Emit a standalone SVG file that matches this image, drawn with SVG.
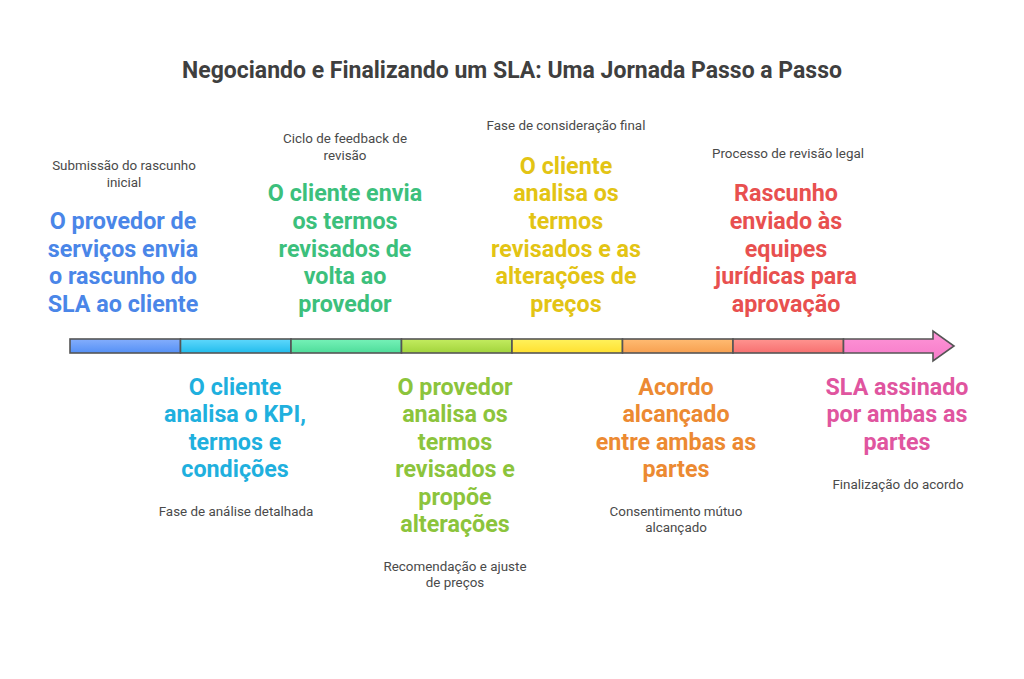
<svg xmlns="http://www.w3.org/2000/svg" width="1024" height="679" viewBox="0 0 1024 679">
<style>
text{font-family:Roboto,"Liberation Sans",Arial,sans-serif;text-anchor:middle}
.t{font-size:23px;font-weight:bold;fill:#3f3f3f}
.s{font-size:13.4px;fill:#4a4a4a}
.m{font-size:23.3px;font-weight:bold}
.seg{stroke:#555;stroke-width:1.6}
</style>
<defs>
<linearGradient id="g1" x1="0" y1="0" x2="0" y2="1"><stop offset="0" stop-color="#84aefc"/><stop offset="1" stop-color="#5590f5"/></linearGradient>
<linearGradient id="g2" x1="0" y1="0" x2="0" y2="1"><stop offset="0" stop-color="#5fd8fc"/><stop offset="1" stop-color="#22bcec"/></linearGradient>
<linearGradient id="g3" x1="0" y1="0" x2="0" y2="1"><stop offset="0" stop-color="#76f2b8"/><stop offset="1" stop-color="#4edc9a"/></linearGradient>
<linearGradient id="g4" x1="0" y1="0" x2="0" y2="1"><stop offset="0" stop-color="#c3ec60"/><stop offset="1" stop-color="#a2d43c"/></linearGradient>
<linearGradient id="g5" x1="0" y1="0" x2="0" y2="1"><stop offset="0" stop-color="#fff25c"/><stop offset="1" stop-color="#ffe030"/></linearGradient>
<linearGradient id="g6" x1="0" y1="0" x2="0" y2="1"><stop offset="0" stop-color="#ffbb72"/><stop offset="1" stop-color="#f7a050"/></linearGradient>
<linearGradient id="g7" x1="0" y1="0" x2="0" y2="1"><stop offset="0" stop-color="#ff9490"/><stop offset="1" stop-color="#f77070"/></linearGradient>
<linearGradient id="g8" x1="0" y1="0" x2="0" y2="1"><stop offset="0" stop-color="#ff96d8"/><stop offset="1" stop-color="#f57ac8"/></linearGradient>
</defs>
<rect width="1024" height="679" fill="#ffffff"/>
<text class="t" x="512" y="78">Negociando e Finalizando um SLA: Uma Jornada Passo a Passo</text>

<g id="connectors">
<rect class="seg" x="70" y="339" width="110.5" height="14" fill="url(#g1)"/>
<rect class="seg" x="180.5" y="339" width="110.5" height="14" fill="url(#g2)"/>
<rect class="seg" x="291" y="339" width="110.5" height="14" fill="url(#g3)"/>
<rect class="seg" x="401.5" y="339" width="110.5" height="14" fill="url(#g4)"/>
<rect class="seg" x="512" y="339" width="110.5" height="14" fill="url(#g5)"/>
<rect class="seg" x="622.5" y="339" width="110.5" height="14" fill="url(#g6)"/>
<rect class="seg" x="733" y="339" width="110.5" height="14" fill="url(#g7)"/>
<path class="seg" d="M843.5,339 H933 V331 L954,346 L933,361 V353 H843.5 Z" fill="url(#g8)" stroke-linejoin="miter"/>
</g>

<g id="step1">
<text class="s" x="124" y="170">Submissão do rascunho</text>
<text class="s" x="124" y="187">inicial</text>
<g class="m" fill="#4a86e8">
<text x="123" y="229">O provedor de</text>
<text x="123" y="257">serviços envia</text>
<text x="123" y="284">o rascunho do</text>
<text x="123" y="312">SLA ao cliente</text>
</g>
</g>

<g id="step2">
<g class="m" fill="#1fb0de">
<text x="235" y="395">O cliente</text>
<text x="235" y="422">analisa o KPI,</text>
<text x="235" y="450">termos e</text>
<text x="235" y="477">condições</text>
</g>
<text class="s" x="236" y="516">Fase de análise detalhada</text>
</g>

<g id="step3">
<text class="s" x="345" y="143">Ciclo de feedback de</text>
<text class="s" x="345" y="160">revisão</text>
<g class="m" fill="#3cc07c">
<text x="345" y="201">O cliente envia</text>
<text x="345" y="229">os termos</text>
<text x="345" y="257">revisados de</text>
<text x="345" y="284">volta ao</text>
<text x="345" y="312">provedor</text>
</g>
</g>

<g id="step4">
<g class="m" fill="#8cc43c">
<text x="455" y="395">O provedor</text>
<text x="455" y="422">analisa os</text>
<text x="455" y="450">termos</text>
<text x="455" y="477">revisados e</text>
<text x="455" y="505">propõe</text>
<text x="455" y="532">alterações</text>
</g>
<text class="s" x="455" y="571">Recomendação e ajuste</text>
<text class="s" x="455" y="587">de preços</text>
</g>

<g id="step5">
<text class="s" x="566" y="130">Fase de consideração final</text>
<g class="m" fill="#e3c414">
<text x="566" y="174">O cliente</text>
<text x="566" y="201">analisa os</text>
<text x="566" y="229">termos</text>
<text x="566" y="257">revisados e as</text>
<text x="566" y="284">alterações de</text>
<text x="566" y="312">preços</text>
</g>
</g>

<g id="step6">
<g class="m" fill="#ec8a32">
<text x="676" y="395">Acordo</text>
<text x="676" y="422">alcançado</text>
<text x="676" y="450">entre ambas as</text>
<text x="676" y="477">partes</text>
</g>
<text class="s" x="676" y="516">Consentimento mútuo</text>
<text class="s" x="676" y="532">alcançado</text>
</g>

<g id="step7">
<text class="s" x="788" y="158">Processo de revisão legal</text>
<g class="m" fill="#e8504f">
<text x="786" y="201">Rascunho</text>
<text x="786" y="229">enviado às</text>
<text x="786" y="257">equipes</text>
<text x="786" y="284">jurídicas para</text>
<text x="786" y="312">aprovação</text>
</g>
</g>

<g id="step8">
<g class="m" fill="#e0559f">
<text x="897" y="395">SLA assinado</text>
<text x="897" y="422">por ambas as</text>
<text x="897" y="450">partes</text>
</g>
<text class="s" x="898" y="489">Finalização do acordo</text>
</g>
</svg>
